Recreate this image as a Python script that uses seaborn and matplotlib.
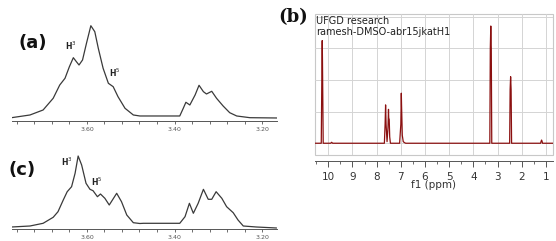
import numpy as np
import pandas as pd
import seaborn as sns
import matplotlib.pyplot as plt
from matplotlib.ticker import FixedLocator, FormatStrFormatter

# panel (a): expanded 1H region, ppm vs intensity
ppm_a = [3.772, 3.730, 3.700, 3.677, 3.662, 3.650, 3.640, 3.631, 3.624, 3.618,
         3.610, 3.601, 3.591, 3.582, 3.574, 3.563, 3.551, 3.540, 3.529, 3.513,
         3.494, 3.479, 3.388, 3.380, 3.374, 3.365, 3.353, 3.344, 3.334, 3.327,
         3.315, 3.304, 3.289, 3.274, 3.258, 3.228, 3.166]
int_a = [0.3, 3, 8, 19.7, 33, 39.7, 51.3, 60.3, 56.3, 53,
         58, 74.7, 92.3, 86.3, 69.7, 49.7, 34.7, 31.3, 21.3, 9.7,
         3, 2, 2, 9.7, 15.7, 13, 23, 32.7, 26.3, 24,
         26.7, 19.7, 12, 5.3, 2, 0.3, 0]

# panel (c)
ppm_c = [3.772, 3.730, 3.700, 3.677, 3.666, 3.654, 3.645, 3.635, 3.627, 3.620,
         3.612, 3.602, 3.593, 3.586, 3.576, 3.569, 3.559, 3.549, 3.532, 3.521,
         3.509, 3.494, 3.479, 3.471, 3.388, 3.376, 3.366, 3.357, 3.346, 3.334,
         3.323, 3.315, 3.305, 3.292, 3.281, 3.266, 3.255, 3.243, 3.213, 3.167]
int_c = [0, 1, 3.7, 9.7, 15.3, 27, 35.3, 40.3, 53.7, 71,
         62, 43.7, 37.7, 36.3, 30.3, 33, 28.7, 22, 33.7, 25.3,
         12, 4.3, 3.5, 3.7, 3.7, 10.3, 23.7, 13.7, 23.7, 37.7,
         27.7, 27.7, 35.3, 28.7, 20.3, 14.3, 7, 1, 0, -1]

# panel (b): full spectrum in DMSO
ppm_b = [10.60, 10.29, 10.26, 10.25, 10.24, 10.21, 9.90, 9.86, 9.82, 7.68,
         7.65, 7.63, 7.61, 7.57, 7.53, 7.51, 7.50, 7.48, 7.46, 7.43, 7.05,
         7.00, 6.98, 6.97, 6.96, 6.94, 6.92, 6.90, 6.85, 6.80, 3.32,
         3.30, 3.28, 3.26, 3.24, 2.50, 2.48, 2.46, 2.44, 2.42, 1.22,
         1.20, 1.18, 1.16, 1.14, 0.70]
int_b = [0, 0, 2.6, 3.24, 2.6, 0, 0, 0.03, 0, 0,
         0.6, 1.21, 0.6, 0.05, 0.5, 1.07, 0.8, 0.75, 0.2, 0, 0,
         0.6, 1.58, 1.2, 0.9, 0.25, 0.15, 0.05, 0.02, 0, 0,
         3.0, 3.70, 3.0, 0, 0, 1.7, 2.10, 1.7, 0, 0,
         0.06, 0.10, 0.06, 0, 0]

ticks_small = [3.76, 3.72, 3.68, 3.64, 3.60, 3.56, 3.52, 3.48, 3.44, 3.40,
               3.36, 3.32, 3.28, 3.24, 3.20]
labels_small = [3.60, 3.40, 3.20]

sns.set_style('white')
plt.rcParams['font.family'] = ['DejaVu Sans']

fig = plt.figure(figsize=(5.56, 2.41), dpi=100)
ax_a = fig.add_axes([0.0216, 0.498, 0.4766, 0.419])
ax_c = fig.add_axes([0.0216, 0.0498, 0.4766, 0.3485])
ax_b = fig.add_axes([0.5665, 0.357, 0.428, 0.585])

for ax, x, y, yl in [(ax_a, ppm_a, int_a, (-3, 98)), (ax_c, ppm_c, int_c, (-2, 82))]:
    sns.lineplot(x=x, y=y, ax=ax, color='#3a3a3a', lw=0.9, sort=False, estimator=None)
    ax.set_xlim(3.771, 3.166)
    ax.set_ylim(*yl)
    for s in ['top', 'left', 'right']:
        ax.spines[s].set_visible(False)
    ax.spines['bottom'].set_color('#555555')
    ax.spines['bottom'].set_linewidth(0.7)
    ax.set_yticks([])
    ax.xaxis.set_major_locator(FixedLocator(labels_small))
    ax.xaxis.set_minor_locator(FixedLocator(ticks_small))
    ax.xaxis.set_major_formatter(FormatStrFormatter('%.2f'))
    ax.tick_params(axis='x', which='both', bottom=True, direction='out', length=2.5,
                   width=0.6, color='#555555', labelsize=4.5, labelcolor='#555555', pad=2)
    ax.set_xlabel('')
    ax.set_ylabel('')
    ax.patch.set_alpha(0)

ax_a.text(3.637, 66, r'H$^3$', fontsize=5.5, fontweight='bold', ha='center', va='bottom', color='#222222')
ax_a.text(3.536, 39, r'H$^5$', fontsize=5.5, fontweight='bold', ha='center', va='bottom', color='#222222')
ax_c.text(3.646, 65, r'H$^3$', fontsize=5.5, fontweight='bold', ha='center', va='center', color='#222222')
ax_c.text(3.577, 45, r'H$^5$', fontsize=5.5, fontweight='bold', ha='center', va='center', color='#222222')

fig.text(33 / 556, 1 - 43 / 241, '(a)', fontsize=13, fontweight='bold', ha='center', va='center', color='#111111')
fig.text(22 / 556, 1 - 170 / 241, '(c)', fontsize=13, fontweight='bold', ha='center', va='center', color='#111111')
fig.text(293 / 556, 1 - 17 / 241, '(b)', fontsize=13, fontweight='bold', family='DejaVu Serif',
         ha='center', va='center', color='#111111')

# panel (b)
sns.lineplot(x=ppm_b, y=int_b, ax=ax_b, color='#8b1010', lw=0.9, sort=False, estimator=None)
ax_b.set_xlim(10.55, 0.71)
ax_b.set_ylim(-0.37, 4.08)
ax_b.set_xticks(range(1, 11))
ax_b.xaxis.set_minor_locator(FixedLocator(np.arange(1.5, 10.6, 1.0)))
ax_b.set_yticks([0, 1, 2, 3, 4])
ax_b.grid(True, which='major', color='#d4d4d4', lw=0.7)
ax_b.tick_params(axis='y', left=False, labelleft=False)
ax_b.tick_params(axis='x', which='major', bottom=True, direction='out', length=4, width=0.7,
                 color='#555555', labelsize=7.5, labelcolor='#333333', pad=4)
ax_b.tick_params(axis='x', which='minor', bottom=True, direction='out', length=2, width=0.6,
                 color='#555555')
for s in ['top', 'left', 'right']:
    ax_b.spines[s].set_visible(False)
ax_b.spines['bottom'].set_position(('outward', 4))
ax_b.spines['bottom'].set_color('#555555')
ax_b.spines['bottom'].set_linewidth(0.7)
ax_b.patch.set_edgecolor('#c8c8c8')
ax_b.patch.set_linewidth(0.8)
ax_b.set_xlabel('f1 (ppm)', fontsize=7.5, color='#333333', labelpad=-1)
ax_b.set_ylabel('')
ax_b.text(0.005, 0.95, 'UFGD research', transform=ax_b.transAxes, fontsize=7,
          ha='left', va='center', color='#222222')
ax_b.text(0.005, 0.872, 'ramesh-DMSO-abr15jkatH1', transform=ax_b.transAxes, fontsize=7,
          ha='left', va='center', color='#222222')

fig.savefig('out.png', dpi=100)
